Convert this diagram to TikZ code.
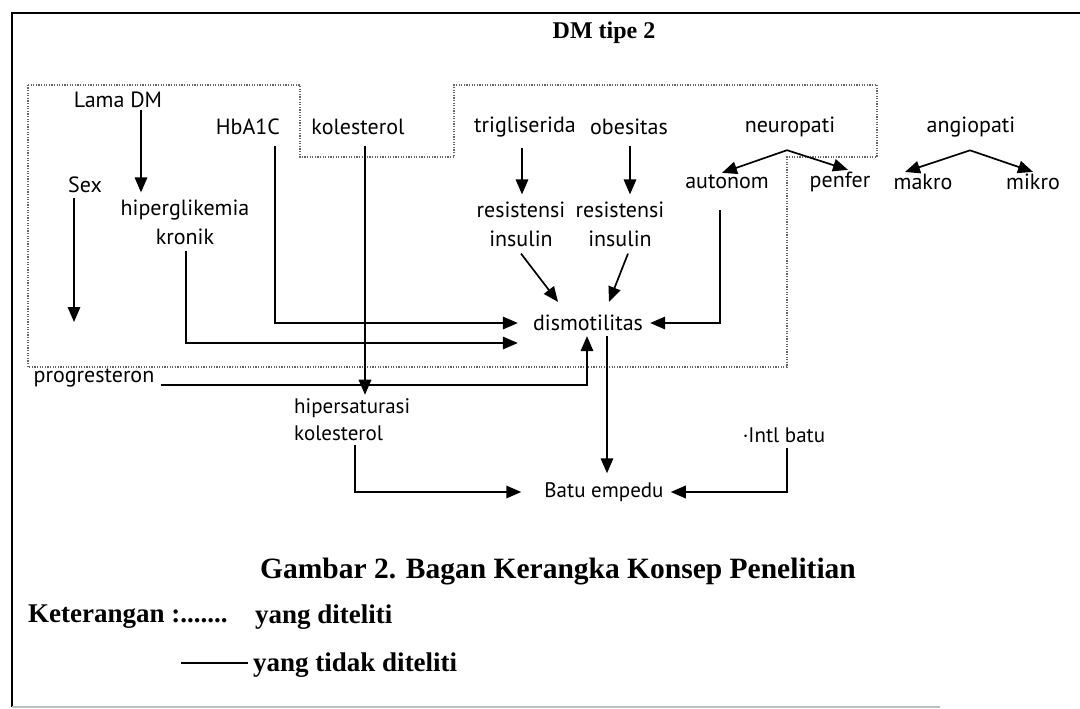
\documentclass[tikz,border=0pt]{standalone}
\usepackage{fontspec}
\setmainfont{PT Sans}
\newfontfamily\capfont{Liberation Serif}
\usetikzlibrary{arrows.meta}
\begin{document}
\begin{tikzpicture}[x=1pt,y=-1pt,
  lab/.style={font=\fontsize{22}{29}\selectfont, inner sep=1pt, text=black},
  captxt/.style={font=\capfont\bfseries\fontsize{27}{32}\selectfont, inner sep=0pt},
  arr/.style={line width=1.7pt, -{Triangle[length=15pt,width=12.5pt]}},
  ln/.style={line width=1.7pt},
  dots/.style={black!60, line width=1.2pt, dash pattern=on 1.2pt off 1.4pt}]
\useasboundingbox (0,0) rectangle (1080,709);
% frame
\draw[line width=1.8pt] (12,707) -- (12,13) -- (1080,13);
\draw[black!25, line width=1.5pt] (12,707) -- (940,707);
% dotted region (studied variables)
\draw[dots] (28,85) -- (300,85) -- (300,157) -- (454,157) -- (454,85) -- (877,85)
  -- (877,157) -- (787,157) -- (787,367) -- (28,367) -- cycle;
% column coordinates
\coordinate (cLama) at (141,0);
\coordinate (cSex) at (74,0);
\coordinate (cHb) at (275,0);
\coordinate (cKol) at (365,0);
\coordinate (cTri) at (522,0);
\coordinate (cObe) at (630,0);
\coordinate (cAut) at (720,0);
\coordinate (cHip) at (186,0);
\coordinate (cProg) at (587,0);
\coordinate (cDis) at (607,0);
\coordinate (cHs) at (355,0);
\coordinate (cIntl) at (787,0);
\coordinate (sexend) at (74,322);
% nodes
\node[captxt, font=\capfont\bfseries\fontsize{24}{28}\selectfont] (dm) at (604,33) {DM tipe 2};
\node[lab] (lama) at (118,100) {Lama DM};
\node[lab] (hba) at (248,127) {HbA1C};
\node[lab] (kol) at (358,127) {kolesterol};
\node[lab] (trig) at (525,127) {trigliserida};
\node[lab] (obe) at (629,127) {obesitas};
\node[lab] (neu) at (790,127) {neuropati};
\node[lab] (ang) at (971,127) {angiopati};
\node[lab] (sex) at (85,185) {Sex};
\node[lab] (aut) at (727,182) {autonom};
\node[lab] (pen) at (840,182) {penfer};
\node[lab] (mak) at (923,182) {makro};
\node[lab] (mik) at (1033,182) {mikro};
\node[lab, align=center] (hip) at (185,222) {hiperglikemia\\kronik};
\node[lab, align=center] (ri1) at (521,224) {resistensi\\insulin};
\node[lab, align=center] (ri2) at (620,224) {resistensi\\insulin};
\node[lab] (dis) at (588,323) {dismotilitas};
\node[lab] (prog) at (94,378) {progresteron};
\node[lab, align=left, anchor=west, font=\fontsize{21}{27}\selectfont] (hs) at (293,420) {hipersaturasi\\kolesterol};
\node[lab, font=\fontsize{21}{27}\selectfont] (intl) at (784,435) {·Intl batu};
\node[lab, font=\fontsize{21}{27}\selectfont] (batu) at (604,492) {Batu empedu};
\node[captxt, font=\capfont\bfseries\fontsize{29.5}{34}\selectfont] (gam) at (558,572) {Gambar 2. Bagan Kerangka Konsep Penelitian};
\node[captxt, anchor=west] (ket) at (28,617) {Keterangan :.......};
\node[captxt, anchor=west] (yd) at (255,617) {yang diteliti};
\node[captxt, anchor=west] (ytd) at (253,665) {yang tidak diteliti};
% connectors
\draw[arr] ([yshift=-1pt]lama.south -| cLama) -- ([yshift=6pt]hip.north -| cLama);
\draw[arr] ([yshift=-4pt]sex.south -| cSex) -- (sexend);
\draw[arr] ([yshift=-10pt]hba.south -| cHb) |- ([xshift=-14pt]dis.west);
\draw[arr] ([yshift=-5pt]hip.south -| cHip) |- ([xshift=-14pt,yshift=-20pt]dis.west);
\draw[arr] ([yshift=-10pt]kol.south -| cKol) -- ([yshift=3pt]hs.north -| cKol);
\draw[arr] ([yshift=-10pt]trig.south -| cTri) -- ([yshift=6pt]ri1.north -| cTri);
\draw[arr] ([yshift=-10pt]obe.south -| cObe) -- ([yshift=6pt]ri2.north -| cObe);
\draw[arr] ([yshift=-6pt]ri1.south) -- ([xshift=-30pt,yshift=12pt]dis.north);
\draw[arr] ([xshift=8pt,yshift=-6pt]ri2.south) -- ([xshift=21pt,yshift=12pt]dis.north);
\draw[arr] ([xshift=-3pt,yshift=-12pt]neu.south) -- ([xshift=-5pt,yshift=1pt]aut.north);
\draw[arr] ([xshift=-3pt,yshift=-12pt]neu.south) -- ([xshift=8pt,yshift=1pt]pen.north);
\draw[arr] ([xshift=-1pt,yshift=-12pt]ang.south) -- ([xshift=-18pt,yshift=1pt]mak.north);
\draw[arr] ([xshift=-1pt,yshift=-12pt]ang.south) -- ([yshift=1pt]mik.north);
\draw[arr] ([yshift=-20pt]aut.south -| cAut) |- ([xshift=6pt]dis.east);
\draw[arr] ([xshift=5pt,yshift=-7pt]prog.east) -| ([yshift=-4pt]dis.south -| cProg);
\draw[arr] ([yshift=-4pt]dis.south -| cDis) -- ([yshift=8pt]batu.north -| cDis);
\draw[arr] ([yshift=-3pt]hs.south -| cHs) |- ([xshift=-22pt]batu.west);
\draw[arr] ([yshift=-4pt]intl.south -| cIntl) |- ([xshift=6pt]batu.east);
% legend sample line
\draw[ln] ([xshift=-5pt,yshift=2pt]ytd.west) -- ++(-67,0);
\end{tikzpicture}
\end{document}
